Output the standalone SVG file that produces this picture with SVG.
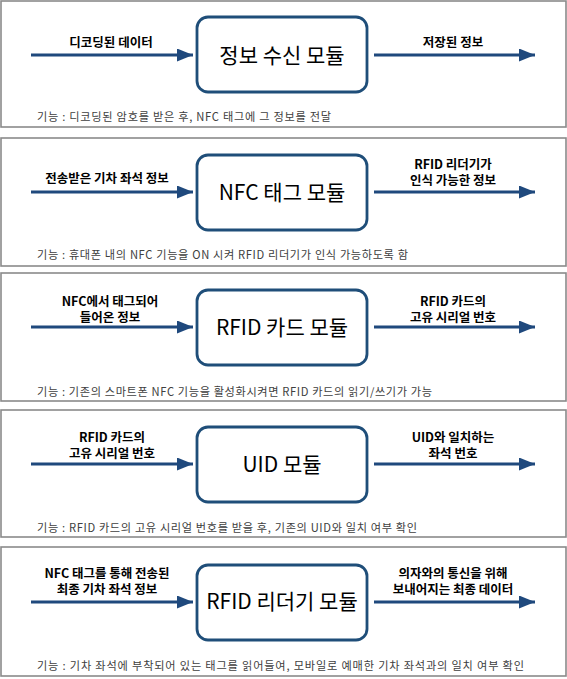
<svg xmlns="http://www.w3.org/2000/svg" width="567" height="679" viewBox="0 0 567 679">
<defs>
<marker id="ah" viewBox="0 0 16 13" refX="16" refY="6.5" markerWidth="16" markerHeight="13" markerUnits="userSpaceOnUse" orient="auto">
<path d="M0,0 L16,6.5 L0,13 Z" fill="#1f497d"/>
</marker>
<style>
.panel{fill:#fff;stroke:#8a8a8a;stroke-width:1.6}
.box{fill:#fff;stroke:#1f4e79;stroke-width:2.8}
.arr{stroke:#1f497d;stroke-width:2.8;fill:none;marker-end:url(#ah)}
.lbl{font-family:"Noto Sans CJK KR","Noto Sans",sans-serif;font-size:12.5px;font-weight:bold;fill:#000;text-anchor:middle}
.mod{font-family:"Noto Sans CJK KR","Noto Sans",sans-serif;font-size:21px;fill:#000;text-anchor:middle}
.cap{font-family:"Noto Sans CJK KR","Noto Sans",sans-serif;font-size:11.2px;fill:#404040}
</style>
</defs>
<rect width="567" height="679" fill="#fff"/>

<g id="panel1">
<rect class="panel" x="1" y="1" width="565" height="126"/>
<g id="node1"><rect class="box" x="197" y="17" width="170" height="75" rx="11"/>
<text class="mod" x="282" y="63">정보 수신 모듈</text></g>
<text class="lbl" x="111" y="46.5">디코딩된 데이터</text>
<text class="lbl" x="453" y="46.5">저장된 정보</text>
<text class="cap" x="37" y="121" textLength="294" lengthAdjust="spacing">기능 : 디코딩된 암호를 받은 후, NFC 태그에 그 정보를 전달</text>
</g>

<g id="panel2">
<rect class="panel" x="1" y="138" width="565" height="128"/>
<g id="node2"><rect class="box" x="197" y="155" width="170" height="75" rx="11"/>
<text class="mod" x="282" y="200">NFC 태그 모듈</text></g>
<text class="lbl" x="107" y="183">전송받은 기차 좌석 정보</text>
<text class="lbl" x="453" y="168.5"><tspan x="453">RFID 리더기가</tspan><tspan x="453" dy="16">인식 가능한 정보</tspan></text>
<text class="cap" x="37" y="259" textLength="371" lengthAdjust="spacing">기능 : 휴대폰 내의 NFC 기능을 ON 시켜 RFID 리더기가 인식 가능하도록 함</text>
</g>

<g id="panel3">
<rect class="panel" x="1" y="273" width="565" height="128"/>
<g id="node3"><rect class="box" x="197" y="290" width="170" height="75" rx="11"/>
<text class="mod" x="282" y="335">RFID 카드 모듈</text></g>
<text class="lbl" x="110" y="306"><tspan x="110">NFC에서 태그되어</tspan><tspan x="110" dy="16">들어온 정보</tspan></text>
<text class="lbl" x="453" y="306"><tspan x="453">RFID 카드의</tspan><tspan x="453" dy="16">고유 시리얼 번호</tspan></text>
<text class="cap" x="37" y="396" textLength="395" lengthAdjust="spacing">기능 : 기존의 스마트폰 NFC 기능을 활성화시켜면 RFID 카드의 읽기/쓰기가 가능</text>
</g>

<g id="panel4">
<rect class="panel" x="1" y="410" width="565" height="127"/>
<g id="node4"><rect class="box" x="197" y="427" width="170" height="75" rx="11"/>
<text class="mod" x="282" y="472">UID 모듈</text></g>
<text class="lbl" x="112" y="442"><tspan x="112">RFID 카드의</tspan><tspan x="112" dy="16">고유 시리얼 번호</tspan></text>
<text class="lbl" x="453" y="442"><tspan x="453">UID와 일치하는</tspan><tspan x="453" dy="16">좌석 번호</tspan></text>
<text class="cap" x="37" y="531.5" textLength="380" lengthAdjust="spacing">기능 : RFID 카드의 고유 시리얼 번호를 받을 후, 기존의 UID와 일치 여부 확인</text>
</g>

<g id="panel5">
<rect class="panel" x="1" y="547" width="565" height="129"/>
<g id="node5"><rect class="box" x="197" y="565" width="170" height="75" rx="11"/>
<text class="mod" x="282" y="609">RFID 리더기 모듈</text></g>
<text class="lbl" x="107" y="578"><tspan x="107">NFC 태그를 통해 전송된</tspan><tspan x="107" dy="16">최종 기차 좌석 정보</tspan></text>
<text class="lbl" x="453" y="578"><tspan x="453">의자와의 통신을 위해</tspan><tspan x="453" dy="16">보내어지는 최종 데이터</tspan></text>
<text class="cap" x="37" y="670" textLength="487" lengthAdjust="spacing">기능 : 기차 좌석에 부착되어 있는 태그를 읽어들여, 모바일로 예매한 기차 좌석과의 일치 여부 확인</text>
</g>

<g id="connectors">
<line class="arr" x1="31" y1="55" x2="193" y2="55"/>
<line class="arr" x1="374" y1="55" x2="535" y2="55"/>
<line class="arr" x1="31" y1="192" x2="193" y2="192"/>
<line class="arr" x1="374" y1="192" x2="535" y2="192"/>
<line class="arr" x1="31" y1="327" x2="193" y2="327"/>
<line class="arr" x1="374" y1="327" x2="535" y2="327"/>
<line class="arr" x1="31" y1="464" x2="193" y2="464"/>
<line class="arr" x1="374" y1="464" x2="535" y2="464"/>
<line class="arr" x1="31" y1="602" x2="193" y2="602"/>
<line class="arr" x1="374" y1="602" x2="535" y2="602"/>
</g>
</svg>
